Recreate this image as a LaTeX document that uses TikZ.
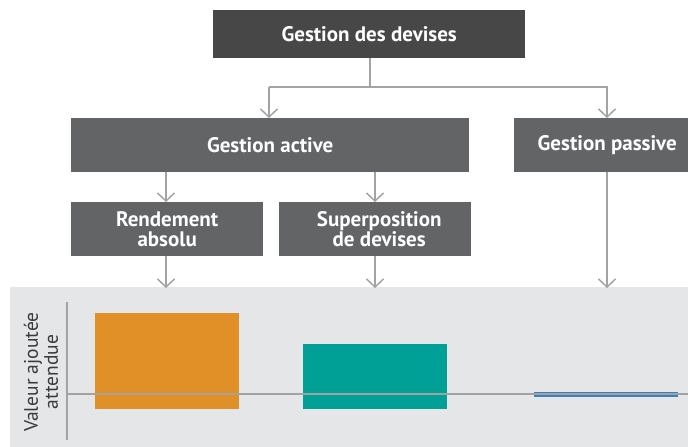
\documentclass[tikz,border=0pt]{standalone}
\usepackage{fontspec}
\setmainfont{PT Sans}
\usetikzlibrary{arrows.meta}
\definecolor{boxdark}{HTML}{474747}
\definecolor{boxgray}{HTML}{636466}
\definecolor{linegray}{HTML}{A3A3A3}
\definecolor{bggray}{HTML}{E5E6E8}
\definecolor{barorange}{HTML}{E18F27}
\definecolor{barteal}{HTML}{00A096}
\definecolor{barblue}{HTML}{3A7FBF}
\definecolor{labelgray}{HTML}{3A3A3A}
\tikzset{
  box/.style={fill=boxgray, text=white, font=\bfseries\fontsize{21}{20}\selectfont, align=center, inner sep=0pt},
  conn/.style={draw=linegray, line width=1.6pt},
  arr/.style={conn, -{Straight Barb[length=8pt,width=17pt,line width=1.5pt]}},
}
\begin{document}
\begin{tikzpicture}[x=1pt,y=-1pt]
\useasboundingbox (0,0) rectangle (688,447);
% background panel
\fill[bggray] (10,287) rectangle (688,447);
% boxes
\node[box, fill=boxdark, minimum width=312pt, minimum height=48pt, anchor=north west] (top) at (213,10) {Gestion des devises};
\node[box, minimum width=398pt, minimum height=54pt, anchor=north west] (active) at (71,118) {Gestion active};
\node[box, minimum width=174pt, minimum height=54pt, anchor=north west] (passive) at (514,118) {\hspace*{12pt}Gestion passive};
\node[box, minimum width=192pt, minimum height=54pt, anchor=north west] (rend) at (71,202) {Rendement\\absolu};
\node[box, minimum width=192pt, minimum height=54pt, anchor=north west] (super) at (279,202) {\hspace*{8pt}Superposition\\\hspace*{8pt}de devises};
% connectors
\coordinate (split) at (370,87);
\coordinate (lft) at (269,87);
\coordinate (rgt) at (607,87);
\draw[conn] (top.south -| split) -- (split);
\draw[arr] (rgt -| lft) -- (lft) -- (lft |- active.north);
\draw[arr] (lft) -- (rgt) -- (rgt |- passive.north);
\coordinate (a1) at (166,0);
\coordinate (a2) at (375,0);
\draw[arr] (a1 |- active.south) -- (a1 |- rend.north);
\draw[arr] (a2 |- active.south) -- (a2 |- super.north);
\coordinate (panel) at (0,288);
\draw[arr] (a1 |- rend.south) -- (a1 |- panel);
\draw[arr] (a2 |- super.south) -- (a2 |- panel);
\draw[arr] (rgt |- passive.south) -- (rgt |- panel);
% bars
\fill[barorange] (95,313) rectangle (239,409);
\fill[barteal] (303,344) rectangle (447,409);
\fill[barblue] (534,392) rectangle (678,397);
% axes
\coordinate (ytop) at (67,302);
\coordinate (ybot) at (67,440);
\coordinate (xr) at (688,394);
\draw[conn, line width=1.5pt] (ytop) -- (ybot);
\draw[conn, line width=1.5pt] (ytop |- xr) -- (xr);
\node[rotate=90, text=labelgray, align=center, font=\fontsize{19.5}{20}\selectfont] (ylab) at (41,372) {Valeur ajoutée\\attendue};
\end{tikzpicture}
\end{document}
